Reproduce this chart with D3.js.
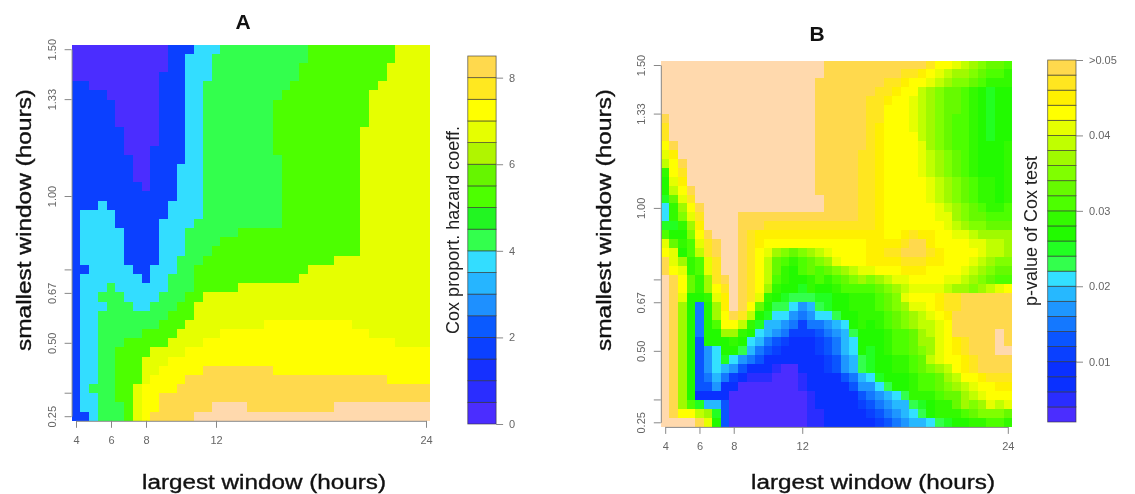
<!DOCTYPE html>
<html>
<head>
<meta charset="utf-8">
<script src="https://cdn.jsdelivr.net/npm/d3@7"></script>
<style>
  html, body { margin: 0; padding: 0; background: #fff; }
  svg { display: block; filter: blur(0.55px); font-family: "Liberation Sans", Arial, sans-serif; }
</style>
</head>
<body>
<svg id="chart" width="1135" height="494"></svg>
<script>
// grid of both maps
const largestHours = d3.range(4, 24.5, 0.5)
const smallestHours = d3.range(0, 41).map(i => 1.5 - i / 32)

const xTicks = [4, 6, 8, 12, 24]
const yTicks = [1.5, 1.33, 1.0, 0.75, 0.67, 0.5, 0.33, 0.25]
const yLabelled = [1.5, 1.33, 1.0, 0.67, 0.5, 0.25]

// token = band (base 36) + last index of the run
// panel A: one string per row, top row first. band 17 is above the legend
const hazardRows = [
  "010 313 716 826 a36 d40",
  "010 312 715 826 a36 d40",
  "010 312 715 825 a35 d40",
  "09 312 715 825 a35 d40",
  "31 09 312 714 824 a34 d40",
  "33 09 312 714 823 a33 d40",
  "34 09 312 714 822 a33 d40",
  "34 09 312 714 822 a33 d40",
  "34 09 312 714 822 a33 d40",
  "35 09 312 714 822 a32 d40",
  "35 09 312 714 822 a32 d40",
  "35 08 312 714 822 a32 d40",
  "36 08 312 714 823 a32 d40",
  "36 08 311 714 823 a32 d40",
  "36 08 311 714 823 a32 d40",
  "37 08 311 714 823 a32 d40",
  "311 714 823 a32 d40",
  "32 73 310 714 823 a32 d40",
  "30 74 310 714 823 a32 d40",
  "30 74 39 713 823 a32 d40",
  "30 75 39 712 818 a32 d40",
  "30 75 39 712 816 a32 d40",
  "30 75 39 712 815 a32 d40",
  "30 75 39 711 814 a29 d40",
  "31 76 38 711 813 a26 d40",
  "30 77 38 710 813 a25 d40",
  "30 73 84 710 813 a18 d40",
  "30 72 85 79 812 a14 d40",
  "30 73 86 78 811 a13 d40",
  "30 72 810 a13 d40",
  "30 72 89 a12 d21 e31 d40",
  "30 72 87 a11 d16 e33 d40",
  "30 72 85 a10 d14 e36 d40",
  "30 72 84 a8 d12 e40",
  "30 72 84 a7 d10 e40",
  "30 72 84 a7 d9 e14 g22 e40",
  "30 72 84 a7 d8 e12 g35 e40",
  "30 71 84 a6 d7 e11 g40",
  "30 72 84 a6 d7 e9 g40",
  "30 72 85 a6 d7 e9 g15 h19 g29 h40",
  "31 72 85 a6 d7 e8 g13 h40",
]

// panel B: one string per column, left column first. band 24 (o) is >0.05
const pvalueCols = [
  "o5 n6 m8 k9 j10 i11 d12 c14 b15 917 b18 e19 j20 k21 n23 o40",
  "o8 n9 l10 k12 j13 i14 f15 d17 b18 c19 f20 j22 k23 n39 o40",
  "o10 n11 m12 l13 k14 j15 h16 g17 d18 c19 d20 c21 h22 j23 k25 j26 h38 k39 o40",
  "o13 n14 m15 k16 j17 h18 g19 e21 d23 f25 c37 e38 k39 o40",
  "o15 n16 m17 l18 k19 j20 i21 e23 d25 c26 630 536 337 b38 i39 n40",
  "o18 n19 m21 j23 h25 d26 c31 734 635 536 337 838 h39 j40",
  "o19 n21 m24 k25 j26 h28 e29 c31 934 835 736 337 838 b39 c40",
  "o23 n24 m25 l27 k29 h30 c32 b33 834 635 337 540",
  "o27 n28 k29 h30 d31 c32 933 734 435 336 040",
  "o16 n27 m28 i29 d30 c31 a32 733 534 335 040",
  "o16 n18 m26 k27 i28 d29 c30 931 832 633 334 135 040",
  "o16 n18 l20 k25 j26 f27 c28 b29 930 831 632 533 334 135 040",
  "o16 n17 m18 l19 k20 j21 i24 h25 d26 c27 b28 830 631 532 333 234 135 040",
  "o16 n17 m18 l19 k20 h21 f23 e24 d25 c26 a27 928 829 730 531 432 233 134 040",
  "o16 n17 m18 l19 k20 g21 e22 d24 c25 b26 a27 928 729 630 431 332 233 040",
  "o16 n17 m18 l19 k20 f21 d22 c25 a26 927 728 629 430 332 233 040",
  "o16 n17 m18 l19 k20 g21 e23 c24 b25 a26 727 628 430 234 136 040",
  "o16 n17 m18 l19 k20 h21 f23 d25 a26 827 728 629 430 236 140",
  "o1 n14 o16 n17 m18 l19 k20 i21 g22 e24 c25 b26 a27 928 629 530 432 334 238 140",
  "n17 m18 l19 k20 j21 h22 f23 d24 c25 b27 928 729 630 532 434 240",
  "n17 m18 l19 k21 j22 g23 e24 d25 c27 a28 829 730 632 534 335 240",
  "n17 m18 l19 k22 h23 f24 e25 c28 929 832 734 535 336 240",
  "n17 m18 l19 k22 i23 g24 e25 d27 c29 a30 932 834 635 536 337 240",
  "n9 m18 l19 k22 j23 h24 e25 d29 c32 a34 835 736 537 438 339 240",
  "n3 m18 l22 j23 g24 e25 d28 c31 b34 935 736 637 538 439 340",
  "n2 m6 l22 k23 h24 f25 e27 d29 c34 b35 936 737 638 539 440",
  "n1 m3 l4 k19 l20 m21 l22 k23 i24 g25 f27 e29 d32 c35 a36 837 738 639 540",
  "n1 m2 l3 k19 l20 m21 l22 k23 j24 h25 g27 f29 e32 d34 c36 937 838 739 640",
  "n0 m1 l2 k18 l19 m20 n21 m22 l23 j24 i25 j26 h27 g29 e32 d34 c36 a37 839 740",
  "n0 m1 k3 j7 k18 m19 n21 m22 l23 k24 j25 k26 j27 h29 f32 e34 d37 a38 939 840",
  "n0 l1 k2 i8 j12 k18 l19 n21 m22 l23 k24 j25 k26 j27 i29 h31 g32 f34 e36 d37 b38 a39 840",
  "m0 k1 j2 h9 i12 j15 k18 l20 m21 l22 k24 j25 k27 j28 i30 h32 i33 g34 e36 d37 c39 940",
  "k0 j1 i2 g9 h12 i15 j17 k20 l22 k24 j25 l27 k28 j33 h34 f36 e37 d39 a40",
  "k0 i1 h2 f9 g12 h15 i16 j18 k23 j24 i25 m27 l28 k33 i34 h35 g36 f37 d39 b40",
  "j0 h1 g2 f5 e9 f12 g15 h17 i18 j19 k23 j24 h25 m27 n30 l32 k34 i35 h36 f38 d39 c40",
  "i0 h1 g2 e12 f15 g17 h18 j19 k22 j23 i24 h25 n30 m32 l34 k35 i36 h38 e39 c40",
  "h0 g1 f2 d12 e15 f17 g18 i19 j20 k21 j22 i23 h24 g25 n32 m34 k35 j36 i37 g38 f39 d40",
  "g0 f1 e2 c12 d15 e16 f17 g18 h19 j21 i22 h23 g24 h25 n34 l35 k36 j37 h38 g39 d40",
  "f0 e1 d2 b8 c12 d16 e17 f18 h19 i21 h22 g23 f24 i25 n34 m35 k37 j38 g39 e40",
  "f0 e1 d2 c15 d16 e17 f18 h19 i21 g22 f23 e24 j25 n29 o32 n34 m35 l36 k37 i38 g39 e40",
  "e0 d2 c8 d15 e17 f18 h21 g22 f23 e24 k25 n31 o32 n34 m35 l36 k37 j38 f39 d40",
]

const hazardColors = ["#4B2DFF", "#2A2DFF", "#1530FF", "#0B40FF", "#0A5AFF", "#1E90FF", "#26B5FF", "#33DDFF",
  "#33FF4D", "#22F522", "#4DFF00", "#66F500", "#B0F500", "#E6FF00", "#FFFF00", "#FFE820", "#FFD94D", "#FFD9AD"]
const pvalueColors = ["#4B2DFF", "#2A2DFF", "#0A30FF", "#0A30FF", "#0A40FF", "#0A55FF", "#1478FF", "#1E96FF",
  "#26B8FF", "#33E0FF", "#33FF4D", "#22FF22", "#22FA00", "#33FA00", "#4DFF00", "#66FA00", "#80FF00", "#A0FA00",
  "#C0FF00", "#E6FF00", "#FFFF00", "#FFF000", "#FFE620", "#FFD94D", "#FFD9AD"]

const hazardLegendTicks = [0, 2, 4, 6, 8]
const pvalueLegendTicks = [0.01, 0.02, 0.03, 0.04, 0.05]

function decode(lines) {
  return lines.map(line => {
    let out = []
    line.split(" ").forEach(t => {
      let band = parseInt(t[0], 36), last = +t.slice(1)
      while (out.length <= last) out.push(band)
    })
    return out
  })
}

const svg = d3.select("#chart")

function draw_panel(p) {
  let g = svg.append("g")
  let x = d3.scaleLinear().domain([4, 24]).range(p.xRange)
  let y = d3.scaleLinear().domain([1.5, 0.25]).range(p.yRange)
  let color = d3.scaleThreshold().domain(d3.range(1, p.colors.length)).range(p.colors)

  let cells = []
  largestHours.forEach((h, j) => smallestHours.forEach((s, i) => cells.push({ h: h, s: s, band: p.band(i, j) })))

  g.selectAll("rect.cell")
    .data(cells)
    .enter()
    .append("rect")
    .attr("class", "cell")
    .attr("x", d => x(d.h - 0.25))
    .attr("y", d => y(d.s + 1 / 64))
    .attr("width", d => x(d.h + 0.25) - x(d.h - 0.25))
    .attr("height", d => y(d.s - 1 / 64) - y(d.s + 1 / 64))
    .attr("fill", d => color(d.band + 0.5))
    .attr("shape-rendering", "crispEdges")

  let xAxis = g.append("g")
    .attr("transform", "translate(0," + (y(0.25) + 4.6) + ")")
    .call(d3.axisBottom(x).tickValues(xTicks).tickSize(7).tickSizeOuter(0).tickPadding(8))
  let yAxis = g.append("g")
    .attr("transform", "translate(" + (x(4) - 4.4) + ",0)")
    .call(d3.axisLeft(y).tickValues(yTicks).tickSize(7).tickSizeOuter(0)
      .tickFormat(v => yLabelled.includes(v) ? d3.format(".2f")(v) : ""))
  yAxis.selectAll("text")
    .attr("transform", "rotate(-90)")
    .attr("x", 0)
    .attr("y", -16)
    .attr("dy", 0)
    .attr("text-anchor", "middle")
  ;[xAxis, yAxis].forEach(a => {
    a.selectAll("text").attr("fill", "#666").attr("font-size", 11).attr("font-family", "Liberation Sans")
    a.selectAll("line").attr("stroke", "#888")
    a.select(".domain").attr("stroke", "#888")
  })

  // legend
  let ly = d3.scaleLinear().domain(p.legendDomain).range(p.legendRange)
  let lg = g.append("g")
  lg.selectAll("rect")
    .data(p.legendBands)
    .enter()
    .append("rect")
    .attr("x", p.legendX)
    .attr("width", 28.3)
    .attr("y", d => ly(d + p.legendStep))
    .attr("height", d => ly(d) - ly(d + p.legendStep))
    .attr("fill", (d, i) => p.colors[i])
    .attr("stroke", "#333")
    .attr("stroke-opacity", 0.75)
    .attr("stroke-width", 0.8)
  let la = lg.append("g")
    .attr("transform", "translate(" + (p.legendX + 28.3) + ",0)")
    .call(d3.axisRight(ly).tickValues(p.legendTicks).tickSize(7).tickSizeOuter(0).tickPadding(6).tickFormat(p.legendFormat))
  la.select(".domain").remove()
  la.selectAll("text").attr("fill", "#666").attr("font-size", 11).attr("font-family", "Liberation Sans")
  la.selectAll("line").attr("stroke", "#888")

  // titles
  g.append("text").attr("x", p.titleX).attr("y", p.titleY).attr("text-anchor", "middle")
    .attr("font-size", 21).attr("font-weight", "bold").attr("fill", "#111").text(p.title)
  g.append("text").attr("x", p.xTitleX).attr("y", 489).attr("text-anchor", "middle")
    .attr("font-size", 20).attr("fill", "#111").attr("stroke", "#111").attr("stroke-width", 0.35)
    .attr("textLength", 244).attr("lengthAdjust", "spacingAndGlyphs").text("largest window (hours)")
  g.append("text").attr("transform", "translate(" + p.yTitleX + "," + p.yTitleY + ") rotate(-90)").attr("text-anchor", "middle")
    .attr("font-size", 20).attr("fill", "#111").attr("stroke", "#111").attr("stroke-width", 0.35)
    .attr("textLength", 262).attr("lengthAdjust", "spacingAndGlyphs").text("smallest window (hours)")
  g.append("text").attr("transform", "translate(" + p.legendTitleX + "," + p.legendTitleY + ") rotate(-90)").attr("text-anchor", "middle")
    .attr("font-size", 18).attr("fill", "#222").text(p.legendTitle)
}

const hazardCells = decode(hazardRows)
const pvalueCells = decode(pvalueCols)

draw_panel({
  title: "A", titleX: 243, titleY: 29,
  xRange: [76, 426], yRange: [49.2, 416.2],
  band: (i, j) => hazardCells[i][j],
  colors: hazardColors,
  legendX: 467.8, legendDomain: [0, 8.5], legendRange: [424, 56], legendStep: 0.5,
  legendBands: d3.range(0, 17).map(i => i * 0.5),
  legendTicks: hazardLegendTicks, legendFormat: d3.format("d"),
  legendTitle: "Cox proport. hazard coeff.", legendTitleX: 459, legendTitleY: 230,
  xTitleX: 264, yTitleX: 31, yTitleY: 220,
})

draw_panel({
  title: "B", titleX: 817, titleY: 41,
  xRange: [665.2, 1007.8], yRange: [65, 422.3],
  band: (i, j) => pvalueCells[j][i],
  colors: pvalueColors,
  legendX: 1047.7, legendDomain: [0.002, 0.05], legendRange: [422, 60], legendStep: 0.002,
  legendBands: d3.range(0, 24).map(i => 0.002 + i * 0.002),
  legendTicks: pvalueLegendTicks, legendFormat: v => v == 0.05 ? ">0.05" : d3.format(".2f")(v),
  legendTitle: "p-value of Cox test", legendTitleX: 1037, legendTitleY: 231,
  xTitleX: 873, yTitleX: 611, yTitleY: 220,
})
</script>
</body>
</html>
